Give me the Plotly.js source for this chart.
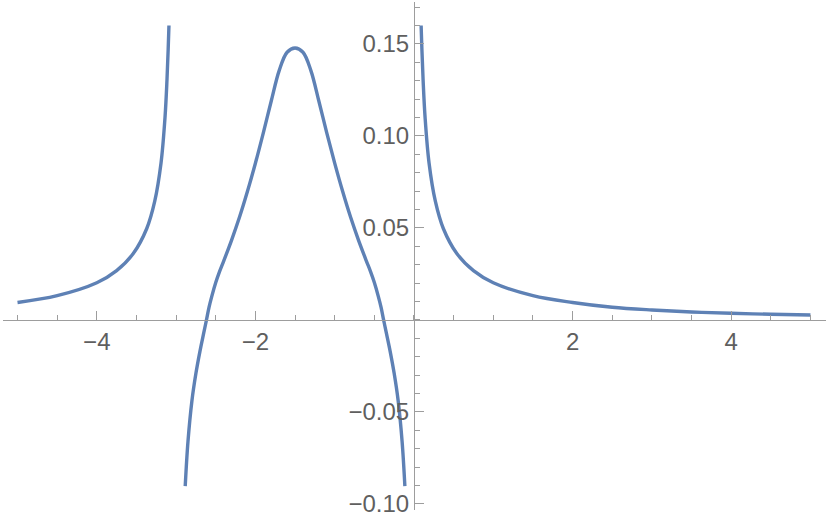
<!DOCTYPE html>
<html>
<head>
<meta charset="utf-8">
<script src="https://cdn.plot.ly/plotly-3.0.1.min.js"></script>
<style>html,body{margin:0;padding:0;background:#fff;}#chart{width:830px;height:521px;}</style>
</head>
<body>
<div id="chart"></div>
<script>
// Branch left of the first asymptote
var branch1X = [-5.0, -4.5, -4.0, -3.75, -3.54, -3.37, -3.27, -3.19, -3.14, -3.115, -3.10, -3.09];
var branch1Y = [0.0095, 0.0132, 0.0202, 0.0268, 0.0361, 0.0497, 0.0644, 0.0853, 0.110, 0.1304, 0.147, 0.160];
// Middle branch
var branch2X = [-2.885, -2.85, -2.80, -2.75, -2.70, -2.65, -2.617, -2.585, -2.55, -2.50, -2.45, -2.40, -2.30, -2.20, -2.10, -2.00, -1.90, -1.80, -1.70, -1.60, -1.50,
                -1.40, -1.30, -1.20, -1.10, -1.00, -0.90, -0.80, -0.70, -0.60, -0.55, -0.50, -0.45, -0.415, -0.383, -0.35, -0.30, -0.25, -0.20, -0.15, -0.115];
var branch2Y = [-0.0903, -0.066, -0.0438, -0.029, -0.0172, -0.0068, 0, 0.0068, 0.0128, 0.0203, 0.0265, 0.032, 0.0434, 0.0559, 0.0699, 0.0852, 0.1017, 0.119, 0.1355, 0.1455, 0.1478,
                0.1455, 0.1355, 0.119, 0.1017, 0.0852, 0.0699, 0.0559, 0.0434, 0.032, 0.0265, 0.0203, 0.0128, 0.0068, 0, -0.0068, -0.0172, -0.029, -0.0438, -0.066, -0.0903];
// Right branch
var branch3X = [0.09, 0.10, 0.115, 0.14, 0.19, 0.27, 0.37, 0.54, 0.75, 1.0, 1.5, 2.0, 2.5, 3.0, 3.5, 4.0, 4.5, 5.0];
var branch3Y = [0.160, 0.147, 0.1304, 0.110, 0.0853, 0.0644, 0.0497, 0.0361, 0.0268, 0.0202, 0.0132, 0.0095, 0.0069, 0.0054, 0.0043, 0.0036, 0.0031, 0.0027];

var xTickVals = [-4, -2, 2, 4];
var yTickVals = [-0.10, -0.05, 0.05, 0.10, 0.15];

var xMinor = [], yMinor = [];
for (var i = -10; i <= 10; i++) xMinor.push(i * 0.5);
for (var k = -10; k <= 17; k++) yMinor.push(k / 100);

function tr(x, y) {
  return {x: x, y: y, type: 'scatter', mode: 'lines',
    line: {color: '#5E81B5', width: 3.4, shape: 'spline', smoothing: 1.0},
    hoverinfo: 'skip', showlegend: false};
}

var axisCol = '#9d9d9d';
var tickFont = {family: 'Liberation Sans, Arial, sans-serif', size: 24, color: '#5f5f5f'};

var xr = [-5.183, 5.196];
var yr = [-0.1033, 0.1728];

var layout = {
  width: 830, height: 521,
  margin: {l: 3, r: 4, t: 2, b: 11, pad: 0},
  paper_bgcolor: '#ffffff', plot_bgcolor: '#ffffff',
  showlegend: false,
  xaxis: {
    range: xr, anchor: 'free', position: (0 - yr[0]) / (yr[1] - yr[0]),
    showgrid: false, zeroline: false, showline: true, linecolor: axisCol, linewidth: 1,
    tickmode: 'array', tickvals: xTickVals, tickformat: 'd',
    ticks: 'inside', ticklen: 9, tickcolor: axisCol, tickwidth: 1,
    tickfont: tickFont,
    minor: {tickmode: 'array', tickvals: xMinor, ticks: 'inside', ticklen: 5, tickcolor: axisCol, tickwidth: 1, showgrid: false}
  },
  yaxis: {
    range: yr, anchor: 'free', position: (0 - xr[0]) / (xr[1] - xr[0]),
    showgrid: false, zeroline: false, showline: true, linecolor: axisCol, linewidth: 1,
    tickmode: 'array', tickvals: yTickVals, tickformat: '.2f',
    ticks: 'inside', ticklen: 9, tickcolor: axisCol, tickwidth: 1,
    tickfont: tickFont,
    minor: {tickmode: 'array', tickvals: yMinor, ticks: 'inside', ticklen: 5, tickcolor: axisCol, tickwidth: 1, showgrid: false}
  }
};

Plotly.newPlot('chart', [tr(branch1X, branch1Y), tr(branch2X, branch2Y), tr(branch3X, branch3Y)], layout, {staticPlot: true, displayModeBar: false});
</script>
</body>
</html>
